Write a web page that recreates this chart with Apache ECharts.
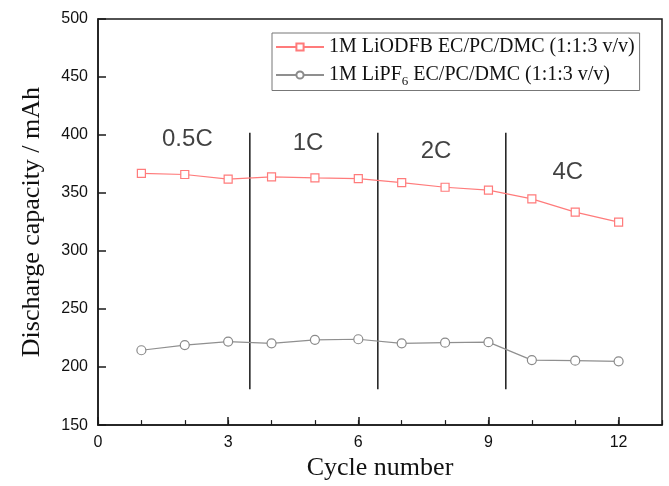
<!DOCTYPE html>
<html>
<head>
<meta charset="utf-8">
<script src="https://cdn.jsdelivr.net/npm/echarts@6/dist/echarts.min.js"></script>
<style>
  html, body { margin: 0; padding: 0; background: #fff; }
  #chart { width: 669px; height: 486px; }
</style>
</head>
<body>
<div id="chart"></div>
<script>
// Cycle index and discharge capacity (mAh) for the two electrolytes
const cycles = [1, 2, 3, 4, 5, 6, 7, 8, 9, 10, 11, 12];
const liodfbCapacity = [367, 366, 362, 364, 363, 362.5, 359, 355, 352.5, 345, 333.5, 325];
const lipf6Capacity = [214.5, 219, 222, 220.5, 223.5, 224, 220.5, 221, 221.5, 206, 205.5, 205];

const seriesNames = ['1M LiODFB EC/PC/DMC (1:1:3 v/v)', '1M LiPF6 EC/PC/DMC (1:1:3 v/v)'];

// C-rate regions: divider positions and the rate written in each region
const dividerX = [3.5, 6.45, 9.4];
const dividerRange = [181, 402];
const rateLabels = ['0.5C', '1C', '2C', '4C'];
const rateLabelX = [2.06, 4.84, 7.79, 10.83];
const rateLabelY = [396, 393, 385.5, 368];

const xTickLabels = [0, 3, 6, 9, 12];

const serif = '"Liberation Serif", "Times New Roman", serif';
const sans = '"Liberation Sans", Arial, sans-serif';
const axisColor = '#1a1a1a';

const toPairs = (xs, ys) => xs.map((x, i) => [x, ys[i]]);

const chart = echarts.init(document.getElementById('chart'), null, { renderer: 'canvas' });

const dividerSeries = dividerX.map((x) => ({
  type: 'line',
  silent: true,
  symbol: 'none',
  xAxisIndex: 0,
  data: [[x, dividerRange[0]], [x, dividerRange[1]]],
  lineStyle: { color: axisColor, width: 1.5 },
  z: 1
}));

chart.setOption({
  animation: false,
  backgroundColor: '#fff',
  grid: {
    left: 98, right: 7, top: 19, bottom: 54,
    show: true, borderColor: axisColor, borderWidth: 1.5, backgroundColor: 'transparent'
  },
  legend: {
    data: seriesNames,
    orient: 'vertical',
    left: 272, top: 33,
    padding: [4, 5, 2, 3],
    itemGap: 8,
    itemWidth: 48,
    itemHeight: 9,
    borderColor: '#777',
    borderWidth: 1,
    backgroundColor: '#fff',
    textStyle: {
      fontFamily: serif, fontSize: 20, color: '#111',
      rich: {
        main: { fontFamily: serif, fontSize: 20, color: '#111' },
        sub: { fontFamily: serif, fontSize: 13, color: '#111', padding: [14, 0, 0, 0] }
      }
    },
    formatter: (name) => {
      const idx = name.indexOf('PF6');
      if (idx < 0) return '{main|' + name + '}';
      return '{main|' + name.slice(0, idx + 2) + '}{sub|6}{main|' + name.slice(idx + 3) + '}';
    }
  },
  xAxis: [
    {
      type: 'value', min: 0, max: 13, interval: 3,
      name: 'Cycle number', nameLocation: 'middle', nameGap: 28,
      nameTextStyle: { fontFamily: serif, fontSize: 26, color: '#111' },
      axisLine: { show: true, lineStyle: { color: axisColor, width: 1.5 } },
      axisTick: { show: true, inside: true, length: 8, lineStyle: { color: axisColor, width: 1.5 } },
      axisLabel: {
        fontFamily: sans, fontSize: 16, color: '#111', margin: 9,
        showMaxLabel: false,
        formatter: (v) => (xTickLabels.indexOf(v) >= 0 ? String(v) : '')
      },
      splitLine: { show: false }
    },
    {
      type: 'value', min: 0, max: 13, interval: 1, position: 'bottom',
      axisLine: { show: false },
      axisTick: { show: true, inside: true, length: 5, lineStyle: { color: axisColor, width: 1.2 } },
      axisLabel: { show: false },
      splitLine: { show: false }
    }
  ],
  yAxis: {
    type: 'value', min: 150, max: 500, interval: 50,
    name: 'Discharge capacity / mAh', nameLocation: 'middle', nameGap: 53, nameRotate: 90,
    nameTextStyle: { fontFamily: serif, fontSize: 26, color: '#111' },
    axisLine: { show: true, lineStyle: { color: axisColor, width: 1.5 } },
    axisTick: { show: true, inside: true, length: 8, lineStyle: { color: axisColor, width: 1.5 } },
    axisLabel: { fontFamily: sans, fontSize: 16, color: '#111', margin: 10 },
    splitLine: { show: false }
  },
  series: [
    {
      name: seriesNames[0],
      type: 'line',
      data: toPairs(cycles, liodfbCapacity),
      symbol: 'rect', symbolSize: 8,
      itemStyle: { color: '#fff', borderColor: '#ff7b7b', borderWidth: 1.2 },
      lineStyle: { color: '#ff7b7b', width: 1.2 },
      z: 3
    },
    {
      name: seriesNames[1],
      type: 'line',
      data: toPairs(cycles, lipf6Capacity),
      symbol: 'circle', symbolSize: 9,
      itemStyle: { color: '#fff', borderColor: '#8a8a8a', borderWidth: 1.2 },
      lineStyle: { color: '#8f8f8f', width: 1.2 },
      z: 3
    },
    ...dividerSeries,
    {
      type: 'scatter',
      silent: true,
      symbolSize: 0,
      data: rateLabels.map((t, i) => ({ name: t, value: [rateLabelX[i], rateLabelY[i]] })),
      label: {
        show: true, position: 'inside', formatter: (p) => p.name,
        fontFamily: sans, fontSize: 24, color: '#111'
      },
      z: 4
    }
  ]
});
</script>
</body>
</html>
